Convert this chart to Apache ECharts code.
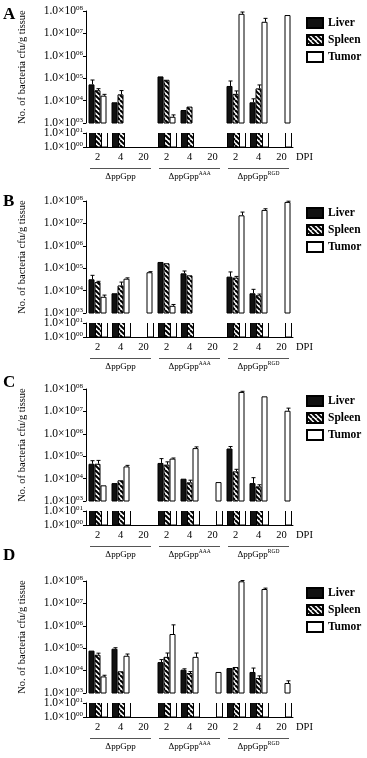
<!DOCTYPE html>
<html>
<head>
<meta charset="utf-8">
<script src="https://cdn.jsdelivr.net/npm/echarts@6/dist/echarts.min.js"></script>
<style>
  html, body { margin: 0; padding: 0; background: #fff; }
  #chart { width: 367px; height: 758px; }
</style>
</head>
<body>
<div id="chart"></div>
<script>
// x categories (DPI) and the three strains they are grouped under
const categories = ["2", "4", "20", "2", "4", "20", "2", "4", "20"];
const groupNames = ["ΔppGpp", "ΔppGpp", "ΔppGpp"];
const groupSups = ["", "AAA", "RGD"];
const tissues = ["Liver", "Spleen", "Tumor"];
const panelLabels = ["A", "B", "C", "D"];

// cfu/g tissue (null = no bar)
const liverA = [5.3e4, 8.4e3, null, 1.2e5, 3.8e3, null, 4.5e4, 8.4e3, null];
const spleenA = [2.9e4, 1.9e4, null, 8.5e4, 5.4e3, null, 2.0e4, 3.5e4, null];
const tumorA = [1.66e4, null, null, 1.9e3, null, null, 7.5e7, 3.3e7, 6.6e7];
const liverErrA = [8.3e4, null, null, null, null, null, 7.5e4, 1.2e4, null];
const spleenErrA = [3.4e4, 2.8e4, null, null, null, null, 2.7e4, 5.0e4, null];
const tumorErrA = [1.9e4, null, null, 2.3e3, null, null, 9.0e7, 4.7e7, null];

const liverB = [3.2e4, 7.6e3, null, 1.9e5, 5.9e4, null, 4.2e4, 7.6e3, null];
const spleenB = [2.4e4, 1.7e4, null, 1.66e5, 4.8e4, null, 3.8e4, 6.2e3, null];
const tumorB = [5.3e3, 3.4e4, 6.6e4, 2.1e3, null, null, 2.3e7, 4.0e7, 9.1e7];
const liverErrB = [4.8e4, null, null, null, 7.5e4, null, 6.8e4, 1.14e4, null];
const spleenErrB = [2.6e4, 2.4e4, null, null, null, null, 4.3e4, 7.0e3, null];
const tumorErrB = [6.3e3, 3.7e4, 7.0e4, 2.4e3, null, null, 3.2e7, 4.5e7, 9.8e7];

const liverC = [4.6e4, 6.3e3, null, 5.0e4, 9.9e3, null, 2.2e5, 6.3e3, null];
const spleenC = [4.6e4, 8.4e3, null, 4.2e4, 6.8e3, null, 2.1e4, 4.5e3, null];
const tumorC = [5.0e3, 3.5e4, null, 7.8e4, 2.3e5, 7.0e3, 7.4e7, 4.7e7, 1.07e7];
const liverErrC = [6.3e4, null, null, 7.8e4, null, null, 2.7e5, 1.1e4, null];
const spleenErrC = [6.5e4, null, null, 5.6e4, 8.5e3, null, 2.6e4, 5.3e3, null];
const tumorErrC = [null, 3.9e4, null, 8.3e4, 2.6e5, null, 7.9e7, null, 1.4e7];

const liverD = [7.8e4, 9.5e4, null, 2.4e4, 1.1e4, null, 1.3e4, 8.7e3, null];
const spleenD = [5.1e4, 9.3e3, null, 4.1e4, 7.8e3, null, 1.45e4, 4.7e3, null];
const tumorD = [5.5e3, 4.6e4, null, 4.3e5, 4.1e4, 8.7e3, 9.7e7, 4.4e7, 2.8e3];
const liverErrD = [null, 1.05e5, null, 3.1e4, 1.2e4, null, null, 1.3e4, null];
const spleenErrD = [6.0e4, null, null, 6.1e4, 9.0e3, null, null, 5.8e3, null];
const tumorErrD = [6.2e3, 5.5e4, null, 1.1e6, 6.1e4, null, 1.05e8, 4.8e7, 3.5e3];

const panels = [
  { values: [liverA, spleenA, tumorA], errors: [liverErrA, spleenErrA, tumorErrA] },
  { values: [liverB, spleenB, tumorB], errors: [liverErrB, spleenErrB, tumorErrB] },
  { values: [liverC, spleenC, tumorC], errors: [liverErrC, spleenErrC, tumorErrC] },
  { values: [liverD, spleenD, tumorD], errors: [liverErrD, spleenErrD, tumorErrD] },
];

// layout
const FONT = '"Liberation Serif", "Times New Roman", serif';
const panelTop = [0, 190, 378, 570];
const letterY = [15, 202, 383, 556];
const gridLeft = 86;
const gridWidth = 207;
const barW = 6;

function hatch() {
  const c = document.createElement("canvas");
  c.width = 5;
  c.height = 5;
  const g = c.getContext("2d");
  g.fillStyle = "#fff";
  g.fillRect(0, 0, 5, 5);
  g.strokeStyle = "#000";
  g.lineWidth = 2;
  [-5, 0, 5].forEach((k) => {
    g.beginPath();
    g.moveTo(k, 0);
    g.lineTo(k + 5, 5);
    g.stroke();
  });
  return c;
}
const hatchFill = { image: hatch(), repeat: "repeat" };
const fills = ["#111", hatchFill, "#fff"];

const barStyles = fills.map((f) => ({ color: f, borderColor: "#000", borderWidth: 1 }));

const powLabel = (v) => "{m|1.0×10}{e|0" + Math.round(Math.log10(v)) + "}";
const powRich = {
  m: { fontFamily: FONT, fontSize: 11.5, color: "#000", lineHeight: 12 },
  e: { fontFamily: FONT, fontSize: 7, color: "#000", verticalAlign: "top" },
};

const grid = [], xAxis = [], yAxis = [], series = [], legend = [], graphic = [];

panels.forEach((panel, p) => {
  const off = panelTop[p];
  grid.push({ left: gridLeft, width: gridWidth, top: off + 11, height: 112 });
  grid.push({ left: gridLeft, width: gridWidth, top: off + 133, height: 14 });
  const gUp = 2 * p, gLow = 2 * p + 1;
  const xUp = xAxis.length;
  xAxis.push({ gridIndex: gUp, type: "category", data: categories, show: false });
  const xLow = xAxis.length;
  xAxis.push({
    gridIndex: gLow, type: "category", data: categories,
    axisLine: { lineStyle: { color: "#000", width: 1 } },
    axisTick: { show: false },
    axisLabel: { color: "#000", fontFamily: FONT, fontSize: 10.5, margin: 5, interval: 0 },
    name: "DPI", nameLocation: "end", nameGap: 3,
    nameTextStyle: { color: "#000", fontFamily: FONT, fontSize: 10.5, verticalAlign: "top", padding: [5, 0, 0, 0] },
  });
  xAxis.push({
    gridIndex: gLow, type: "category", position: "bottom", offset: 22,
    data: groupNames.map((n, i) => n + groupSups[i]),
    axisLine: { show: false }, axisTick: { show: false },
    axisLabel: {
      margin: 2, interval: 0, hideOverlap: false,
      formatter: (v, i) => "{n|" + groupNames[i] + "}" + (groupSups[i] ? "{s|" + groupSups[i] + "}" : ""),
      rich: {
        n: { fontFamily: FONT, fontSize: 9, color: "#000", lineHeight: 11 },
        s: { fontFamily: FONT, fontSize: 5.5, color: "#000", verticalAlign: "top" },
      },
    },
  });
  const yUp = yAxis.length;
  yAxis.push({
    gridIndex: gUp, type: "log", logBase: 10, min: 1e3, max: 1e8,
    axisLine: { show: true, lineStyle: { color: "#000", width: 1 } },
    axisTick: { show: true, length: 3, lineStyle: { color: "#000" } },
    splitLine: { show: false },
    axisLabel: { formatter: powLabel, rich: powRich, margin: 3 },
    name: "No. of bacteria cfu/g tissue", nameLocation: "middle", nameGap: 58,
    nameTextStyle: { color: "#000", fontFamily: FONT, fontSize: 10.5 },
  });
  const yLow = yAxis.length;
  yAxis.push({
    gridIndex: gLow, type: "log", logBase: 10, min: 1, max: 10,
    axisLine: { show: true, lineStyle: { color: "#000", width: 1 } },
    axisTick: { show: true, length: 3, lineStyle: { color: "#000" } },
    splitLine: { show: false },
    axisLabel: { formatter: powLabel, rich: powRich, margin: 3 },
  });

  panel.values.forEach((vals, k) => {
    const offset = (k - 1) * barW;
    series.push({
      name: tissues[k], type: "bar", xAxisIndex: xUp, yAxisIndex: yUp,
      data: vals, barWidth: barW, barGap: "0%", clip: true,
      itemStyle: barStyles[k], emphasis: { disabled: true }, animation: false,
    });
    // lower segment of the broken axis: every bar that exists runs through it, open at the top
    const lowData = [];
    vals.forEach((v, i) => { if (v != null) lowData.push([i, 1, 10]); });
    series.push({
      name: tissues[k] + " low", type: "custom", xAxisIndex: xLow, yAxisIndex: yLow,
      data: lowData, animation: false, silent: true,
      renderItem: (params, api) => {
        const lo = api.coord([api.value(0), api.value(1)]);
        const hi = api.coord([api.value(0), api.value(2)]);
        const x0 = Math.round(lo[0] + offset - barW / 2) + 0.5;
        const x1 = x0 + barW;
        return {
          type: "group",
          children: [
            { type: "rect", shape: { x: x0, y: hi[1], width: barW, height: lo[1] - hi[1] }, style: { fill: fills[k] } },
            { type: "polyline", shape: { points: [[x0, hi[1]], [x0, lo[1]], [x1, lo[1]], [x1, hi[1]]] }, style: { stroke: "#000", lineWidth: 1, fill: null } },
          ],
        };
      },
    });
    const errData = [];
    panel.errors[k].forEach((e, i) => { if (e != null) errData.push([i, e, vals[i]]); });
    series.push({
      name: tissues[k] + " err", type: "custom", xAxisIndex: xUp, yAxisIndex: yUp,
      data: errData, z: 5, animation: false, silent: true,
      renderItem: (params, api) => {
        const top = api.coord([api.value(0), api.value(1)]);
        const base = api.coord([api.value(0), api.value(2)]);
        const x = Math.round(top[0] + offset) + 0.5;
        return {
          type: "group",
          children: [
            { type: "line", shape: { x1: x, y1: base[1], x2: x, y2: top[1] }, style: { stroke: "#000", lineWidth: 1 } },
            { type: "line", shape: { x1: x - 2, y1: top[1], x2: x + 2, y2: top[1] }, style: { stroke: "#000", lineWidth: 1 } },
          ],
        };
      },
    });
  });

  legend.push({
    data: tissues, orient: "vertical", left: 306, top: off + 17, padding: 0,
    itemWidth: 16, itemHeight: 10, itemGap: 5, icon: "rect", selectedMode: false,
    textStyle: { color: "#000", fontFamily: FONT, fontSize: 11.5, fontWeight: "bold" },
  });

  // strain underlines
  const groupW = gridWidth / 3;
  groupNames.forEach((n, g) => {
    graphic.push({
      type: "line", silent: true,
      shape: { x1: gridLeft + g * groupW + 4, y1: off + 168.5, x2: gridLeft + (g + 1) * groupW - 4, y2: off + 168.5 },
      style: { stroke: "#555", lineWidth: 1 },
    });
  });

  graphic.push({
    type: "text", left: 3, top: letterY[p] - 9,
    style: { text: panelLabels[p], fill: "#000", font: "bold 17px " + FONT },
  });
});

const chart = echarts.init(document.getElementById("chart"), null, { renderer: "canvas" });
chart.setOption({
  backgroundColor: "#fff",
  animation: false,
  grid, xAxis, yAxis, series, legend, graphic,
});
</script>
</body>
</html>
